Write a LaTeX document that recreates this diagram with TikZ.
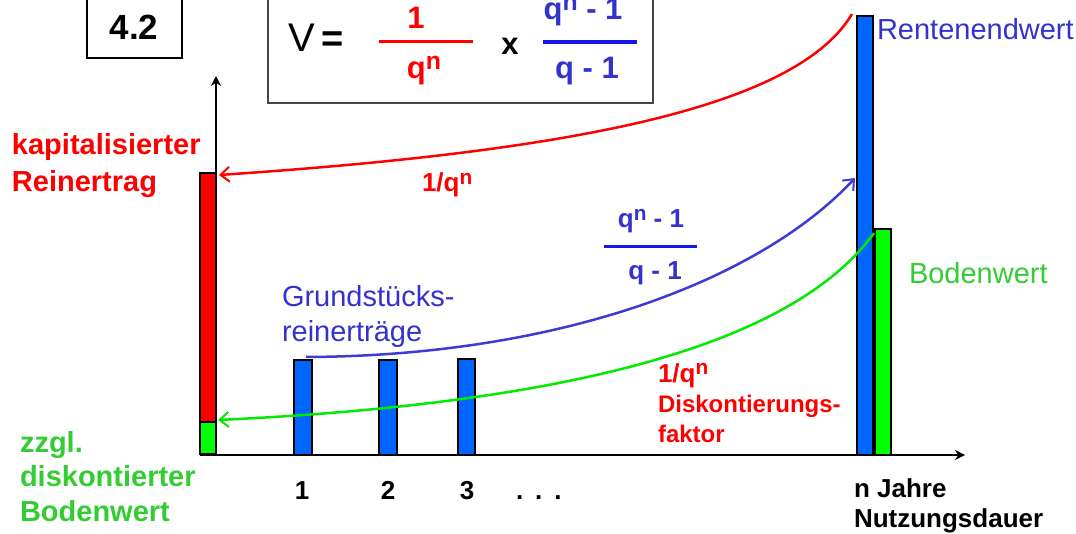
\documentclass[tikz,border=0pt]{standalone}
\usepackage{fontspec}
\setmainfont{Liberation Sans}
\usetikzlibrary{arrows.meta}
\definecolor{tred}{RGB}{255,0,0}
\definecolor{tblue}{RGB}{51,51,204}
\definecolor{lineblue}{RGB}{20,20,235}
\definecolor{curveblue}{RGB}{60,60,210}
\definecolor{barblue}{RGB}{0,102,255}
\definecolor{bargreen}{RGB}{0,255,0}
\definecolor{tgreen}{RGB}{51,204,51}
\definecolor{curvegreen}{RGB}{0,235,0}
\definecolor{boxgray}{RGB}{70,70,70}
\newcommand\fsz[1]{\fontsize{#1}{#1}\selectfont}
\newcommand\supn{\raisebox{0.3em}{\scalebox{0.8}{n}}}
\tikzset{
  lab/.style={inner sep=0pt, outer sep=0pt, anchor=base west},
  labc/.style={inner sep=0pt, outer sep=0pt, anchor=base},
  barbox/.style={draw=black, line width=1.5pt, inner sep=0pt, outer sep=0pt, anchor=south west},
  axisline/.style={line width=2.5pt, -{Stealth[length=10pt,width=10pt]}},
  curve/.style={line width=2.5pt, -{Straight Barb[length=9pt,width=15pt,line width=2pt]}},
  frameline/.style={draw=boxgray, line width=1.5pt}
}
\begin{document}
\begin{tikzpicture}[x=1pt,y=-1pt]
\useasboundingbox (0,0) rectangle (1076,534);
\fill[white] (0,0) rectangle (1076,534);

% title box
\draw[draw=black, line width=2pt] (87,-20) rectangle (182,58);
\node[labc, font=\fsz{35}\bfseries] (title) at (134,40) {4.2};

% formula box
\draw[frameline] (268,-20) rectangle (653,103);
\node[lab, font=\fsz{40}] (fV) at (288,52) {V};
\node[lab, font=\fsz{38}\bfseries] (feq) at (321,52) {=};
\node[labc, font=\fsz{31}\bfseries, text=tred] (fn1) at (416,29) {1};
\draw[tred, line width=3pt] (379,42) -- (473,42);
\node[labc, font=\fsz{31}\bfseries, text=tred] (fd1) at (424,79) {q\supn};
\node[labc, font=\fsz{31}\bfseries] (fx) at (510,55) {x};
\node[labc, font=\fsz{31}\bfseries, text=tblue] (fn2) at (583,20) {q\supn{} - 1};
\draw[lineblue, line width=4pt] (543,42) -- (637,42);
\node[labc, font=\fsz{31}\bfseries, text=tblue] (fd2) at (587,79) {q - 1};

% axes
\coordinate (origin) at (200,455);
\coordinate (ytop) at (216,76);
\coordinate (xend) at (965,455);
\coordinate (ybot) at (216,455);
\draw[axisline] (ybot) -- (ytop);
\draw[axisline] (origin) -- (xend);

% bars
\node[barbox, fill=bargreen, minimum width=16pt, minimum height=32pt] (gsmall) at (200,454) {};
\node[barbox, fill=tred, minimum width=16pt, minimum height=249pt] (rbar) at (200,422) {};
\node[barbox, fill=barblue, minimum width=18pt, minimum height=95pt] (b1) at (294,455) {};
\node[barbox, fill=barblue, minimum width=18pt, minimum height=95pt] (b2) at (379,455) {};
\node[barbox, fill=barblue, minimum width=17pt, minimum height=96pt] (b3) at (458,455) {};
\node[barbox, fill=barblue, minimum width=16pt, minimum height=439pt] (bigblue) at (857,455) {};
\node[barbox, fill=bargreen, minimum width=16pt, minimum height=226pt] (biggreen) at (875,455) {};

% curves
\coordinate (rstart) at (852,14);
\coordinate (rend) at (219,175);
\coordinate (bstart) at (306,357);
\coordinate (bend) at (855,178);
\coordinate (gstart) at (874,233);
\coordinate (gend) at (218,420);
\draw[curve, draw=tred] (rstart) .. controls (795,110) and (560,152) .. (rend);
\draw[curve, draw=curveblue] (bstart) .. controls (560,356) and (760,280) .. (bend);
\draw[curve, draw=curvegreen] (gstart) .. controls (800,335) and (600,402) .. (gend);

% left labels
\node[lab, font=\fsz{29}\bfseries, text=tred] (kap1) at (12,155) {kapitalisierter};
\node[lab, font=\fsz{29}\bfseries, text=tred] (kap2) at (12,192) {Reinertrag};
\node[lab, font=\fsz{29}\bfseries, text=tgreen] (zz1) at (20,452) {zzgl.};
\node[lab, font=\fsz{29}\bfseries, text=tgreen] (zz2) at (20,486) {diskontierter};
\node[lab, font=\fsz{29}\bfseries, text=tgreen] (zz3) at (20,521) {Bodenwert};

% right labels
\node[lab, font=\fsz{29}, text=tblue] (rent) at (877,40) {Rentenendwert};
\node[lab, font=\fsz{29}, text=tgreen] (boden) at (909,284) {Bodenwert};

% middle labels
\node[lab, font=\fsz{29}, text=tblue] (gr1) at (282,307) {Grundstücks-};
\node[lab, font=\fsz{29}, text=tblue] (gr2) at (282,342) {reinerträge};
\node[labc, font=\fsz{26}\bfseries, text=tblue] (mn) at (651,228) {q\supn{} - 1};
\draw[lineblue, line width=3pt] (604,247) -- (697,247);
\node[labc, font=\fsz{26}\bfseries, text=tblue] (md) at (655,280) {q - 1};
\node[lab, font=\fsz{26}\bfseries, text=tred] (q1) at (422,192) {1/q\supn};
\node[lab, font=\fsz{26}\bfseries, text=tred] (q2) at (658,382) {1/q\supn};
\node[lab, font=\fsz{24}\bfseries, text=tred] (dk1) at (658,413) {Diskontierungs-};
\node[lab, font=\fsz{24}\bfseries, text=tred] (dk2) at (658,442) {faktor};

% axis labels
\node[labc, font=\fsz{26}\bfseries] (t1) at (302,499) {1};
\node[labc, font=\fsz{26}\bfseries] (t2) at (388,499) {2};
\node[labc, font=\fsz{26}\bfseries] (t3) at (467,499) {3};
\node[lab, font=\fsz{26}\bfseries] (tdots) at (516,499) {.\hspace{12pt}.\hspace{12pt}.};
\node[lab, font=\fsz{26}\bfseries] (nj1) at (854,497) {n Jahre};
\node[lab, font=\fsz{26}\bfseries] (nj2) at (854,527) {Nutzungsdauer};
\end{tikzpicture}
\end{document}
